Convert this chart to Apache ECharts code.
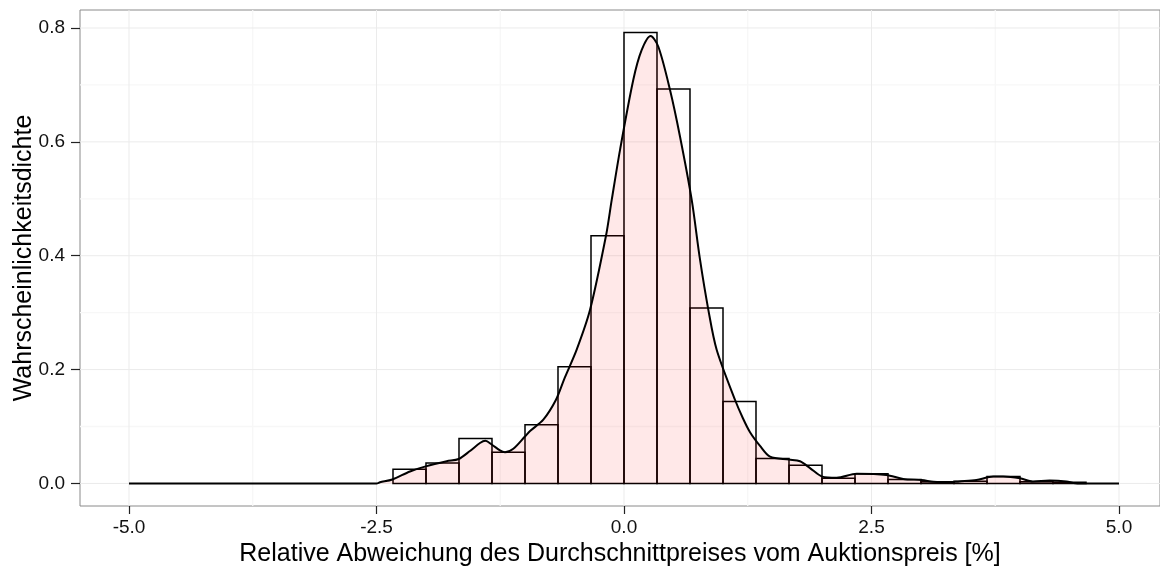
<!DOCTYPE html>
<html>
<head>
<meta charset="utf-8">
<script src="https://cdn.jsdelivr.net/npm/echarts@6/dist/echarts.min.js"></script>
<style>
html,body{margin:0;padding:0;background:#fff;}
#c{width:1160px;height:570px;}
</style>
</head>
<body>
<div id="c"></div>
<script>
// Histogram bins (left edge, bin width 1/3) and densities
const binLeft = [-2.3333, -2.0, -1.6667, -1.3333, -1.0, -0.6667, -0.3333, 0.0, 0.3333, 0.6667, 1.0, 1.3333, 1.6667, 2.0, 2.3333, 2.6667, 3.0, 3.3333, 3.6667, 4.0, 4.3333];
const binWidth = 0.3333;
const binHeight = [0.025, 0.036, 0.079, 0.055, 0.103, 0.205, 0.435, 0.792, 0.693, 0.308, 0.144, 0.044, 0.032, 0.009, 0.017, 0.007, 0.003, 0.004, 0.012, 0.003, 0.002];

// Kernel density curve
const densX = [-5.0, -2.5, -2.465, -2.34, -2.162, -2.003, -1.791, -1.67, -1.556, -1.455, -1.401, -1.333, -1.253, -1.202, -1.118, -1.003, -0.949, -0.815, -0.687, -0.6, -0.478, -0.343, -0.182, -0.124, -0.04, 0.094, 0.178, 0.269, 0.347, 0.465, 0.566, 0.684, 0.768, 0.852, 0.936, 1.121, 1.2, 1.273, 1.374, 1.475, 1.667, 1.778, 1.879, 2.003, 2.148, 2.35, 2.65, 2.82, 3.007, 3.125, 3.26, 3.39, 3.56, 3.73, 3.83, 4.0, 4.13, 4.3, 4.47, 4.54, 4.62, 5.0];
const densY = [0, 0, 0.002, 0.007, 0.021, 0.030, 0.039, 0.043, 0.057, 0.071, 0.075, 0.068, 0.058, 0.055, 0.061, 0.082, 0.092, 0.112, 0.147, 0.185, 0.235, 0.305, 0.435, 0.498, 0.586, 0.709, 0.761, 0.786, 0.767, 0.691, 0.609, 0.498, 0.393, 0.305, 0.235, 0.147, 0.115, 0.09, 0.066, 0.047, 0.042, 0.039, 0.027, 0.012, 0.010, 0.017, 0.015, 0.008, 0.006, 0.003, 0.0017, 0.0035, 0.006, 0.012, 0.012, 0.009, 0.0035, 0.005, 0.0035, 0.001, 0, 0];

// Axis ticks
const xTicks = [-5, -2.5, 0, 2.5, 5];
const xMinor = [-3.75, -1.25, 1.25, 3.75];
const yTicks = [0, 0.2, 0.4, 0.6, 0.8];
const yMinor = [0.1, 0.3, 0.5, 0.7];
const xTitle = 'Relative Abweichung des Durchschnittpreises vom Auktionspreis [%]';
const yTitle = 'Wahrscheinlichkeitsdichte';

const histData = binLeft.map((l, i) => [l, l + binWidth, binHeight[i]]);
const densData = densX.map((x, i) => [x, densY[i]]);

// gridline items: [axis(0=x,1=y), value, major(1)/minor(0)]
const gridItems = [];
xMinor.forEach(v => gridItems.push([0, v, 0]));
yMinor.forEach(v => gridItems.push([1, v, 0]));
xTicks.forEach(v => gridItems.push([0, v, 1]));
yTicks.forEach(v => gridItems.push([1, v, 1]));

const chart = echarts.init(document.getElementById('c'), null, {renderer: 'canvas'});
const font = '"Liberation Sans", Arial, sans-serif';
chart.setOption({
  animation: false,
  backgroundColor: '#fff',
  grid: {left: 80, top: 10, right: 0, height: 496, containLabel: false, outerBoundsMode: 'none', show: true, borderColor: '#8a8a8a', borderWidth: 1, backgroundColor: 'transparent'},
  xAxis: {
    type: 'value', min: -5.4949, max: 5.4141,
    axisLine: {show: false, onZero: false},
    splitLine: {show: false},
    axisTick: {show: true, length: 8, customValues: xTicks, lineStyle: {color: '#222', width: 1.2}},
    axisLabel: {customValues: xTicks, margin: 12, color: '#111', fontSize: 19, fontFamily: font, formatter: v => v.toFixed(1)},
    name: xTitle, nameLocation: 'middle', nameGap: 35,
    nameTextStyle: {fontSize: 25, color: '#000', fontFamily: font}
  },
  yAxis: {
    type: 'value', min: -0.0396, max: 0.8316,
    axisLine: {show: false, onZero: false},
    splitLine: {show: false},
    axisTick: {show: true, length: 9, customValues: yTicks, lineStyle: {color: '#222', width: 1.2}},
    axisLabel: {customValues: yTicks, margin: 15, color: '#111', fontSize: 19, fontFamily: font, formatter: v => v.toFixed(1)},
    name: yTitle, nameLocation: 'middle', nameGap: 43, nameRotate: 90, nameMoveOverlap: false,
    nameTextStyle: {fontSize: 25, color: '#000', fontFamily: font}
  },
  series: [
    {
      type: 'custom', z: 0, silent: true,
      data: gridItems,
      encode: {x: -1, y: -1},
      clip: true,
      renderItem: (params, api) => {
        const cs = params.coordSys;
        const axis = api.value(0), v = api.value(1), major = api.value(2);
        let shape;
        if (axis === 0) {
          const px = api.coord([v, 0])[0];
          shape = {x1: px, y1: cs.y, x2: px, y2: cs.y + cs.height};
        } else {
          const py = api.coord([0, v])[1];
          shape = {x1: cs.x, y1: py, x2: cs.x + cs.width, y2: py};
        }
        return {
          type: 'line', shape: shape,
          style: {stroke: major ? '#ebebeb' : '#f7f7f7', lineWidth: major ? 1 : 1.3}
        };
      }
    },
    {
      type: 'custom', z: 2, silent: true,
      data: histData,
      encode: {x: [0, 1], y: 2},
      renderItem: (params, api) => {
        const p0 = api.coord([api.value(0), api.value(2)]);
        const p1 = api.coord([api.value(1), 0]);
        return {
          type: 'rect',
          shape: {x: p0[0], y: p0[1], width: p1[0] - p0[0], height: p1[1] - p0[1]},
          style: {fill: 'none', stroke: '#000', lineWidth: 1.5}
        };
      }
    },
    {
      type: 'line', z: 3, silent: true,
      data: densData, smooth: 0.3, showSymbol: false, symbol: 'none',
      lineStyle: {color: '#000', width: 2},
      areaStyle: {color: 'rgba(255,0,0,0.13)', origin: 0}
    }
  ]
});
</script>
</body>
</html>
